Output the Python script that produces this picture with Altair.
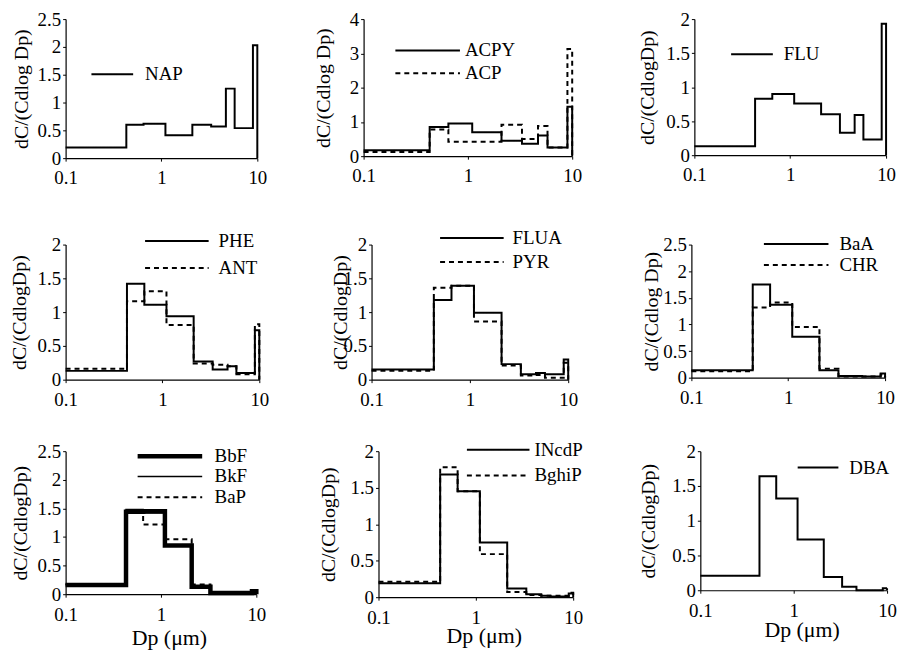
import altair as alt
import pandas as pd

# bin edges of the impactor stages (um)
edges = [0.1, 0.43, 0.65, 1.1, 2.1, 3.3, 4.7, 5.8, 9.0, 10]

NAP = [0.19, 0.60, 0.62, 0.41, 0.60, 0.57, 1.25, 0.54, 2.03]
ACPY = [0.17, 0.85, 0.95, 0.70, 0.45, 0.36, 0.60, 0.25, 1.44]
ACP = [0.12, 0.78, 0.42, 0.42, 0.92, 0.50, 0.88, 0.25, 3.13]
FLU = [0.13, 0.83, 0.90, 0.76, 0.60, 0.33, 0.59, 0.23, 1.93]
PHE = [0.13, 1.42, 1.11, 0.94, 0.27, 0.15, 0.20, 0.10, 0.73]
ANT = [0.16, 1.16, 1.31, 0.81, 0.24, 0.22, 0.20, 0.08, 0.82]
FLUA = [0.15, 1.18, 1.39, 0.99, 0.23, 0.08, 0.10, 0.08, 0.30]
PYR = [0.13, 1.36, 1.39, 0.86, 0.21, 0.06, 0.07, 0.03, 0.25]
BaA = [0.14, 1.75, 1.37, 0.77, 0.14, 0.03, 0.03, 0.02, 0.08]
CHR = [0.12, 1.32, 1.41, 0.95, 0.17, 0.02, 0.02, 0.02, 0.06]
BbF = [0.16, 1.44, 1.45, 0.85, 0.13, 0.02, 0.02, 0.02, 0.05]
BkF = [0.17, 1.48, 1.42, 0.86, 0.15, 0.02, 0.02, 0.02, 0.05]
BaP = [0.17, 1.42, 1.22, 0.96, 0.17, 0.03, 0.02, 0.02, 0.06]
INcdP = [0.19, 1.68, 1.45, 0.75, 0.12, 0.04, 0.02, 0.01, 0.05]
BghiP = [0.21, 1.78, 1.45, 0.59, 0.07, 0.03, 0.02, 0.02, 0.06]
DBA = [0.21, 1.64, 1.32, 0.73, 0.19, 0.05, 0.0, 0.0, 0.03]

x_ticks = [0.1, 1, 10]
y_ticks_25 = [0, 0.5, 1, 1.5, 2, 2.5]
y_ticks_20 = [0, 0.5, 1, 1.5, 2]
y_ticks_4 = [0, 1, 2, 3, 4]

FONT = "Liberation Serif, Times New Roman, serif"
SOLID = [1, 0]
DASH = [5, 4]
YTITLE = "dC/(CdlogDp)"
YTITLE_S = "dC/(Cdlog Dp)"
IND = dict(strokeDash="independent", strokeWidth="independent")


def panel(series, ymax, yticks, w, h, leg, ytitle, ytx, xty=None):
    names = [s[0] for s in series]
    rows = []
    for name, vals, _, _ in series:
        for x, y in zip(edges, list(vals) + [0]):
            rows.append({"series": name, "Dp": x, "v": y})
    df = pd.DataFrame(rows)
    lx, ly, L, G, rp = leg
    r = 9.5
    widths = [s[3] for s in series]
    varied = len(set(widths)) > 1
    leg_kw = dict(
        orient="none", legendX=lx, legendY=ly, title=None,
        symbolType=f"M-1,0H{L / r - 1:.3f}", symbolSize=r * r * 4,
        symbolStrokeColor="black", symbolFillColor="transparent",
        labelFont=FONT, labelFontSize=19, labelColor="black",
        labelOffset=L + G - 2 * r, rowPadding=rp, padding=0,
    )
    if not varied:
        leg_kw["symbolStrokeWidth"] = widths[0]
    legend = alt.Legend(**leg_kw)
    xaxis = alt.Axis(
        values=x_ticks, format="~g", tickSize=3, labelPadding=8,
        title="Dp (μm)" if xty else None,
        **({"titleX": w / 2 + 8, "titleY": xty, "titleBaseline": "middle",
            "titleFontSize": 22} if xty else {}),
    )
    yaxis = alt.Axis(
        values=yticks, format="~g", tickSize=3, labelPadding=2,
        title=ytitle, titleX=ytx, titleY=h / 2, titleAlign="center",
        titleBaseline="middle", titleAngle=270,
    )
    enc = dict(
        x=alt.X("Dp:Q", scale=alt.Scale(type="log", domain=[0.1, 10], nice=False), axis=xaxis),
        y=alt.Y("v:Q", scale=alt.Scale(domain=[0, ymax], nice=False), axis=yaxis),
        strokeDash=alt.StrokeDash(
            "series:N", scale=alt.Scale(domain=names, range=[s[2] for s in series]),
            legend=legend, sort=names),
        order=alt.Order("Dp:Q"),
    )
    if varied:
        enc["strokeWidth"] = alt.StrokeWidth(
            "series:N", scale=alt.Scale(type="ordinal", domain=names, range=widths),
            legend=legend, sort=names)
        mark = alt.MarkDef(type="line", interpolate="step-after", color="black")
    else:
        mark = alt.MarkDef(type="line", interpolate="step-after", color="black",
                           strokeWidth=widths[0])
    return alt.Chart(df, mark=mark).encode(**enc).properties(width=w, height=h)


p1 = panel([("NAP", NAP, SOLID, 2)], 2.5, y_ticks_25, 193, 140,
           (25, 45, 42, 11, 0), YTITLE_S, -44)
p2 = panel([("ACPY", ACPY, SOLID, 2), ("ACP", ACP, DASH, 2)], 4, y_ticks_4, 210, 138,
           (31, 21, 65, 4, 2), YTITLE_S, -40)
p3 = panel([("FLU", FLU, SOLID, 2)], 2, y_ticks_20, 193, 137,
           (36, 25, 42, 10, 0), YTITLE, -47)
p4 = panel([("PHE", PHE, SOLID, 2), ("ANT", ANT, DASH, 2)], 2, y_ticks_20, 195, 136,
           (79, -14, 64, 9, 6), YTITLE, -46)
p5 = panel([("FLUA", FLUA, SOLID, 2), ("PYR", PYR, DASH, 2)], 2, y_ticks_20, 198, 136,
           (68, -17, 64, 8, 3), YTITLE, -31)
p6 = panel([("BaA", BaA, SOLID, 2), ("CHR", CHR, DASH, 2)], 2.5, y_ticks_25, 195, 134,
           (72, -11, 65, 10, -4), YTITLE_S, -40)
p7 = panel([("BbF", BbF, SOLID, 4.5), ("BkF", BkF, SOLID, 1.5), ("BaP", BaP, DASH, 2)],
           2.5, y_ticks_25, 192, 144, (70, -7, 65, 10, -1), YTITLE, -45, 44)
p8 = panel([("INcdP", INcdP, SOLID, 2), ("BghiP", BghiP, DASH, 2)], 2, y_ticks_20, 196, 147,
           (88, -12, 63, 4, 5), YTITLE, -50, 39)
p9 = panel([("DBA", DBA, SOLID, 2)], 2, y_ticks_20, 188, 140,
           (97, 6, 41, 10, 0), YTITLE, -52, 40)


def row(a, b, c, s_in, s_out):
    inner = alt.hconcat(a, b, spacing=s_in, bounds="flush").resolve_scale(**IND)
    return alt.hconcat(inner, c, spacing=s_out).resolve_scale(**IND)


row1 = row(p1, p2, p3, 107, 56)
row2 = row(p4, p5, p6, 113, 63)
row3 = row(p7, p8, p9, 123, 56)

top = alt.vconcat(row1, row2, spacing=40).resolve_scale(**IND)
chart = (
    alt.vconcat(top, row3, spacing=30)
    .resolve_scale(**IND)
    .properties(padding={"left": 2, "top": 0, "right": 0, "bottom": 0})
    .configure_view(stroke=None)
    .configure_axis(
        labelFont=FONT, titleFont=FONT, labelFontSize=19, titleFontSize=20,
        titleFontWeight="normal", labelColor="black", titleColor="black",
        domainColor="black", tickColor="black", grid=False, domainWidth=1.2,
        labelFlush=False,
    )
)

chart.save("out.html", embed_options={"renderer": "svg", "actions": False})
